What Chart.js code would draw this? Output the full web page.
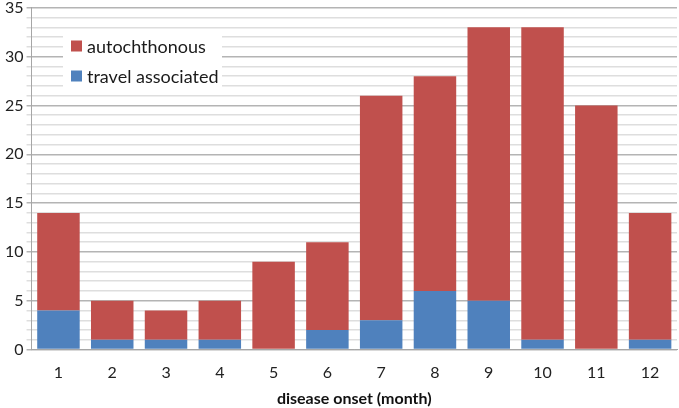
<!DOCTYPE html>
<html>
<head>
<meta charset="utf-8">
<script src="https://cdn.jsdelivr.net/npm/chart.js@4"></script>
<style>
html,body{margin:0;padding:0;background:#fff;}
#wrap{width:679px;height:408px;}
</style>
</head>
<body>
<div id="wrap"><canvas id="c" width="679" height="408"></canvas></div>
<script>
const months = ['1','2','3','4','5','6','7','8','9','10','11','12'];
const travelAssociated = [4,1,1,1,0,2,3,6,5,1,0,1];
const autochthonous = [10,4,3,4,9,9,23,22,28,32,25,13];
const yTicks = [0,5,10,15,20,25,30,35];

const FONT = 'Lato, "Open Sans", sans-serif';

const legendPlugin = {
  id: 'boxLegend',
  afterDraw(chart) {
    const ctx = chart.ctx;
    ctx.save();
    ctx.fillStyle = '#ffffff';
    ctx.fillRect(63, 35, 159, 57);
    const items = chart.data.datasets.slice().reverse();
    items.forEach((ds, i) => {
      const cy = 46 + i * 30;
      ctx.fillStyle = ds.backgroundColor;
      ctx.fillRect(71, cy - 5.5, 11, 11);
      ctx.fillStyle = '#1a1a1a';
      ctx.font = '18px ' + FONT;
      ctx.textBaseline = 'middle';
      ctx.textAlign = 'left';
      ctx.fillText(ds.label, 87, cy + 1);
    });
    ctx.restore();
  }
};

new Chart(document.getElementById('c'), {
  type: 'bar',
  data: {
    labels: months,
    datasets: [
      { label: 'travel associated', data: travelAssociated, backgroundColor: '#4F81BD', stack: 's' },
      { label: 'autochthonous', data: autochthonous, backgroundColor: '#C0504D', stack: 's' }
    ]
  },
  options: {
    responsive: false,
    animation: false,
    layout: { padding: { left: 2, right: 2, top: 0, bottom: 0 } },
    plugins: { legend: { display: false }, tooltip: { enabled: false } },
    datasets: { bar: { barPercentage: 0.79, categoryPercentage: 1.0 } },
    scales: {
      x: {
        stacked: true,
        grid: { display: false, drawTicks: false },
        border: { display: true, color: '#a6a6a6', width: 1 },
        ticks: { color: '#222', font: { family: FONT, size: 16 }, padding: 14 },
        title: { display: true, text: 'disease onset (month)', color: '#111', font: { family: FONT, size: 16, weight: 'bold' }, padding: { top: -8, bottom: 0 } }
      },
      y: {
        stacked: true,
        min: 0, max: 35,
        afterBuildTicks(scale) {
          const t = [];
          for (let v = 0; v <= 35; v++) t.push({ value: v });
          scale.ticks = t;
        },
        grid: {
          color: (c) => (c.tick && yTicks.includes(c.tick.value)) ? '#b4b4b4' : '#dedede',
          lineWidth: 1.5,
          tickLength: 5
        },
        border: { display: true, color: '#a6a6a6', width: 1 },
        ticks: {
          color: '#222',
          font: { family: FONT, size: 16, lineHeight: 0.6 },
          padding: 3,
          autoSkip: false,
          callback: (v) => yTicks.includes(v) ? String(v) : ''
        }
      }
    }
  },
  plugins: [legendPlugin]
});
</script>
</body>
</html>
